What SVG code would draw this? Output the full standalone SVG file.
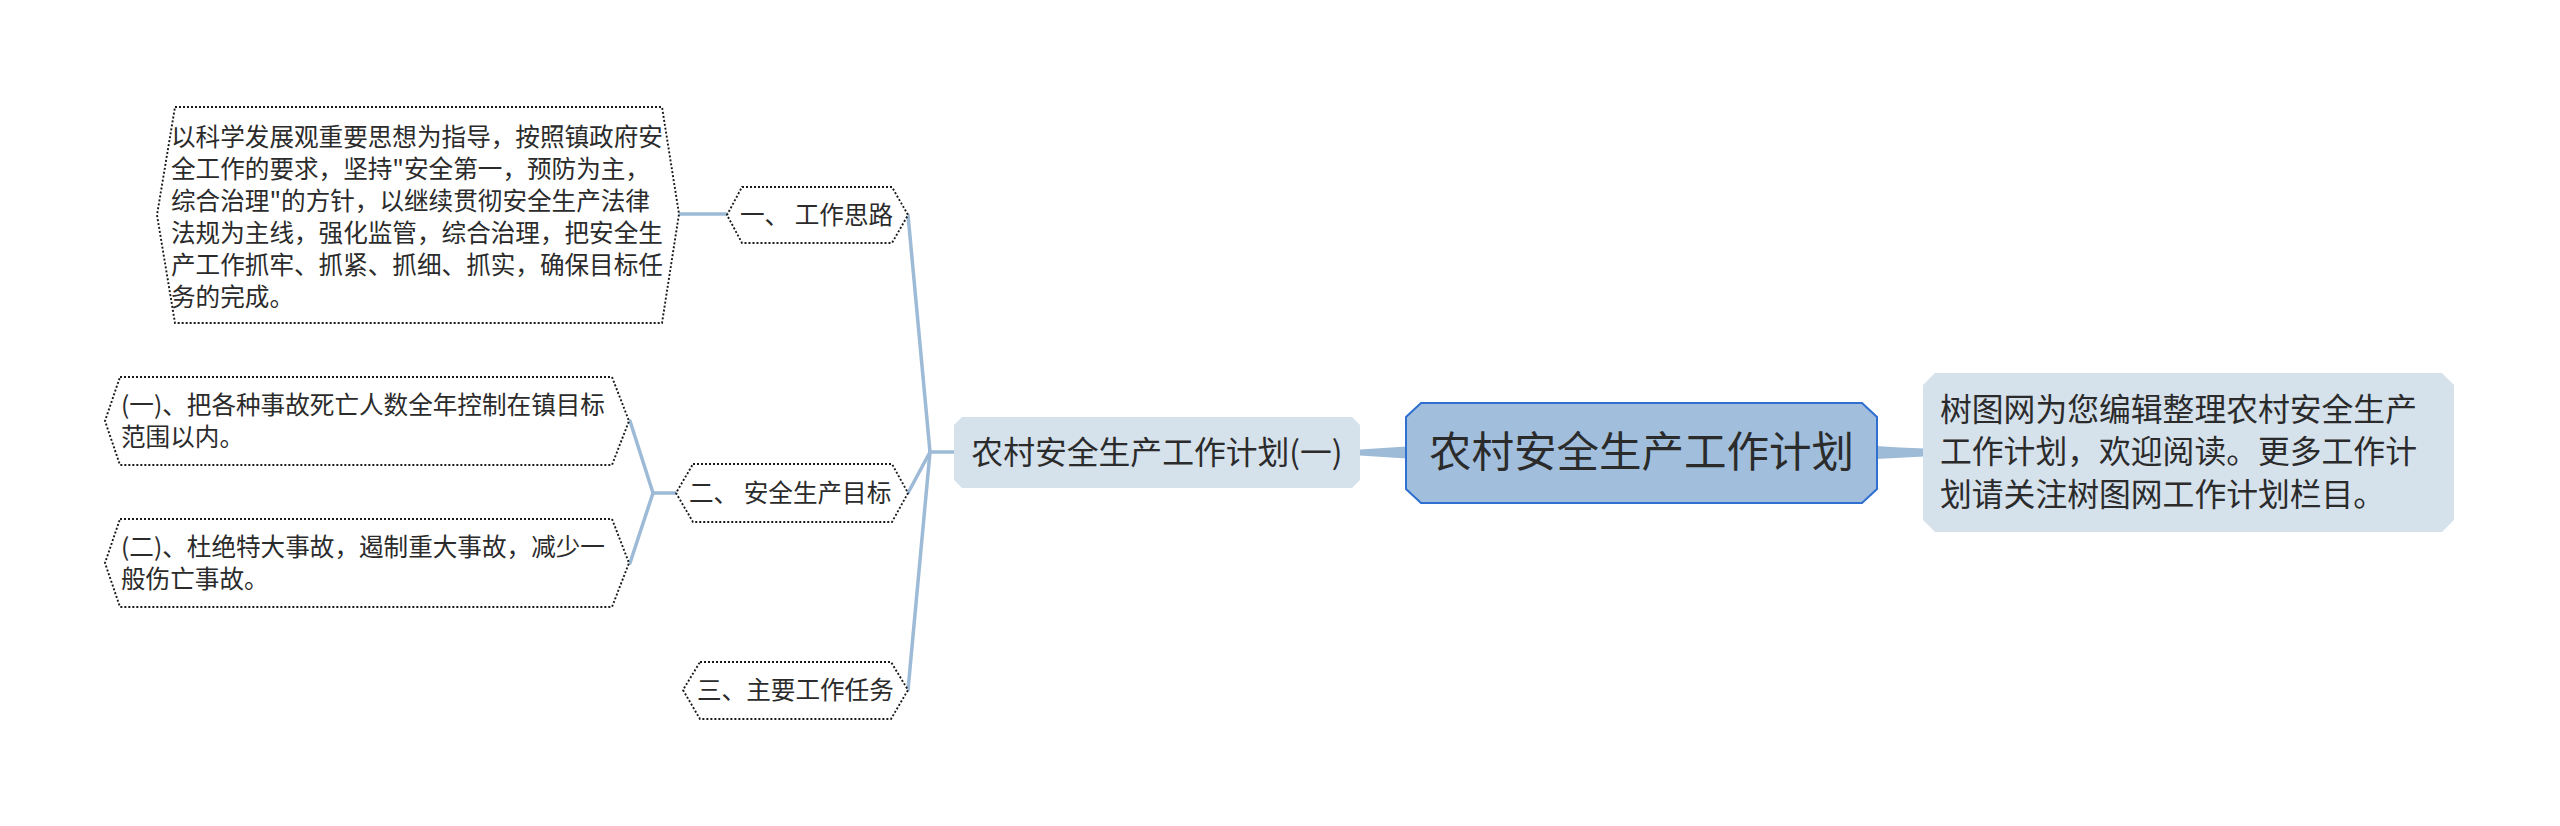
<svg xmlns="http://www.w3.org/2000/svg" width="2560" height="826" viewBox="0 0 2560 826">
<style>
text{font-family:"Noto Sans CJK SC","Noto Sans CJK JP",sans-serif;fill:#2b2b2b}
.s{font-size:24.6px}
.m{font-size:31.8px}
.l{font-size:42.5px}
.dot{fill:#ffffff;stroke:#1a1a1a;stroke-width:1.9;stroke-dasharray:2 2}
.ln{fill:none;stroke:#9dbad6;stroke-width:3.5;stroke-linecap:round;stroke-linejoin:round}
.tp{fill:#9dbad6}
</style>
<rect width="2560" height="826" fill="#ffffff"/>
<g id="connectors">
<polyline class="ln" points="908,215 930,452 908,493"/>
<polyline class="ln" points="930,452 908,690"/>
<line class="ln" x1="930" y1="452" x2="955" y2="452"/>
<line class="ln" x1="679" y1="214" x2="727" y2="214"/>
<polyline class="ln" points="630,421 653,493 630,563"/>
<line class="ln" x1="653" y1="493" x2="676" y2="493"/>
<path class="tp" d="M1360,449.5 Q1383,448 1407,446.5 L1407,458.5 Q1383,457 1360,455.5 Q1357,452.5 1360,449.5 Z"/>
<path class="tp" d="M1876,446 Q1900,447.5 1924,448.5 L1924,456.5 Q1900,457.5 1876,459 Z"/>
</g>
<g id="center">
<path d="M1421,403 L1862,403 L1877,417 L1877,489 L1862,503 L1421,503 L1406,489 L1406,417 Z" fill="#a1bfdc" stroke="#2f6fd0" stroke-width="2"/>
<text class="l" x="1641.5" y="467" text-anchor="middle">农村安全生产工作计划</text>
</g>
<g id="intro">
<path d="M1935,373 L2442,373 L2454,385 L2454,520 L2442,532 L1935,532 L1923,520 L1923,385 Z" fill="#d5e1eb"/>
<text class="m" x="1940" y="421">树图网为您编辑整理农村安全生产</text>
<text class="m" x="1940" y="463">工作计划，欢迎阅读。更多工作计</text>
<text class="m" x="1940" y="506">划请关注树图网工作计划栏目。</text>
</g>
<g id="plan1">
<path d="M962,417 L1352,417 L1360,425 L1360,480 L1352,488 L962,488 L954,480 L954,425 Z" fill="#d5e1eb"/>
<text class="m" x="1157" y="464" text-anchor="middle">农村安全生产工作计划(一)</text>
</g>
<g id="idea">
<path class="dot" d="M742,187 L892,187 L908,215 L892,243 L742,243 L727,215 Z"/>
<text class="s" x="740" y="224" xml:space="preserve">一、 工作思路</text>
</g>
<g id="idea-detail">
<path class="dot" d="M175,107 L662,107 L679,214 L662,323 L175,323 L157,215 Z"/>
<text class="s" x="171" y="146">以科学发展观重要思想为指导，按照镇政府安</text>
<text class="s" x="171" y="178">全工作的要求，坚持"安全第一，预防为主，</text>
<text class="s" x="171" y="210">综合治理"的方针，以继续贯彻安全生产法律</text>
<text class="s" x="171" y="242">法规为主线，强化监管，综合治理，把安全生</text>
<text class="s" x="171" y="274">产工作抓牢、抓紧、抓细、抓实，确保目标任</text>
<text class="s" x="171" y="306">务的完成。</text>
</g>
<g id="goal">
<path class="dot" d="M693,464 L892,464 L908,493 L892,522 L693,522 L676,493 Z"/>
<text class="s" x="689" y="502" xml:space="preserve">二、 安全生产目标</text>
</g>
<g id="goal-1">
<path class="dot" d="M120,377 L612,377 L629,421 L612,465 L120,465 L105,421 Z"/>
<text class="s" x="121" y="414">(一)、把各种事故死亡人数全年控制在镇目标</text>
<text class="s" x="121" y="446">范围以内。</text>
</g>
<g id="goal-2">
<path class="dot" d="M120,519 L612,519 L629,563 L612,607 L120,607 L105,563 Z"/>
<text class="s" x="121" y="556">(二)、杜绝特大事故，遏制重大事故，减少一</text>
<text class="s" x="121" y="588">般伤亡事故。</text>
</g>
<g id="tasks">
<path class="dot" d="M700,662 L891,662 L908,690 L891,719 L700,719 L683,690 Z"/>
<text class="s" x="697" y="699">三、主要工作任务</text>
</g>
</svg>
